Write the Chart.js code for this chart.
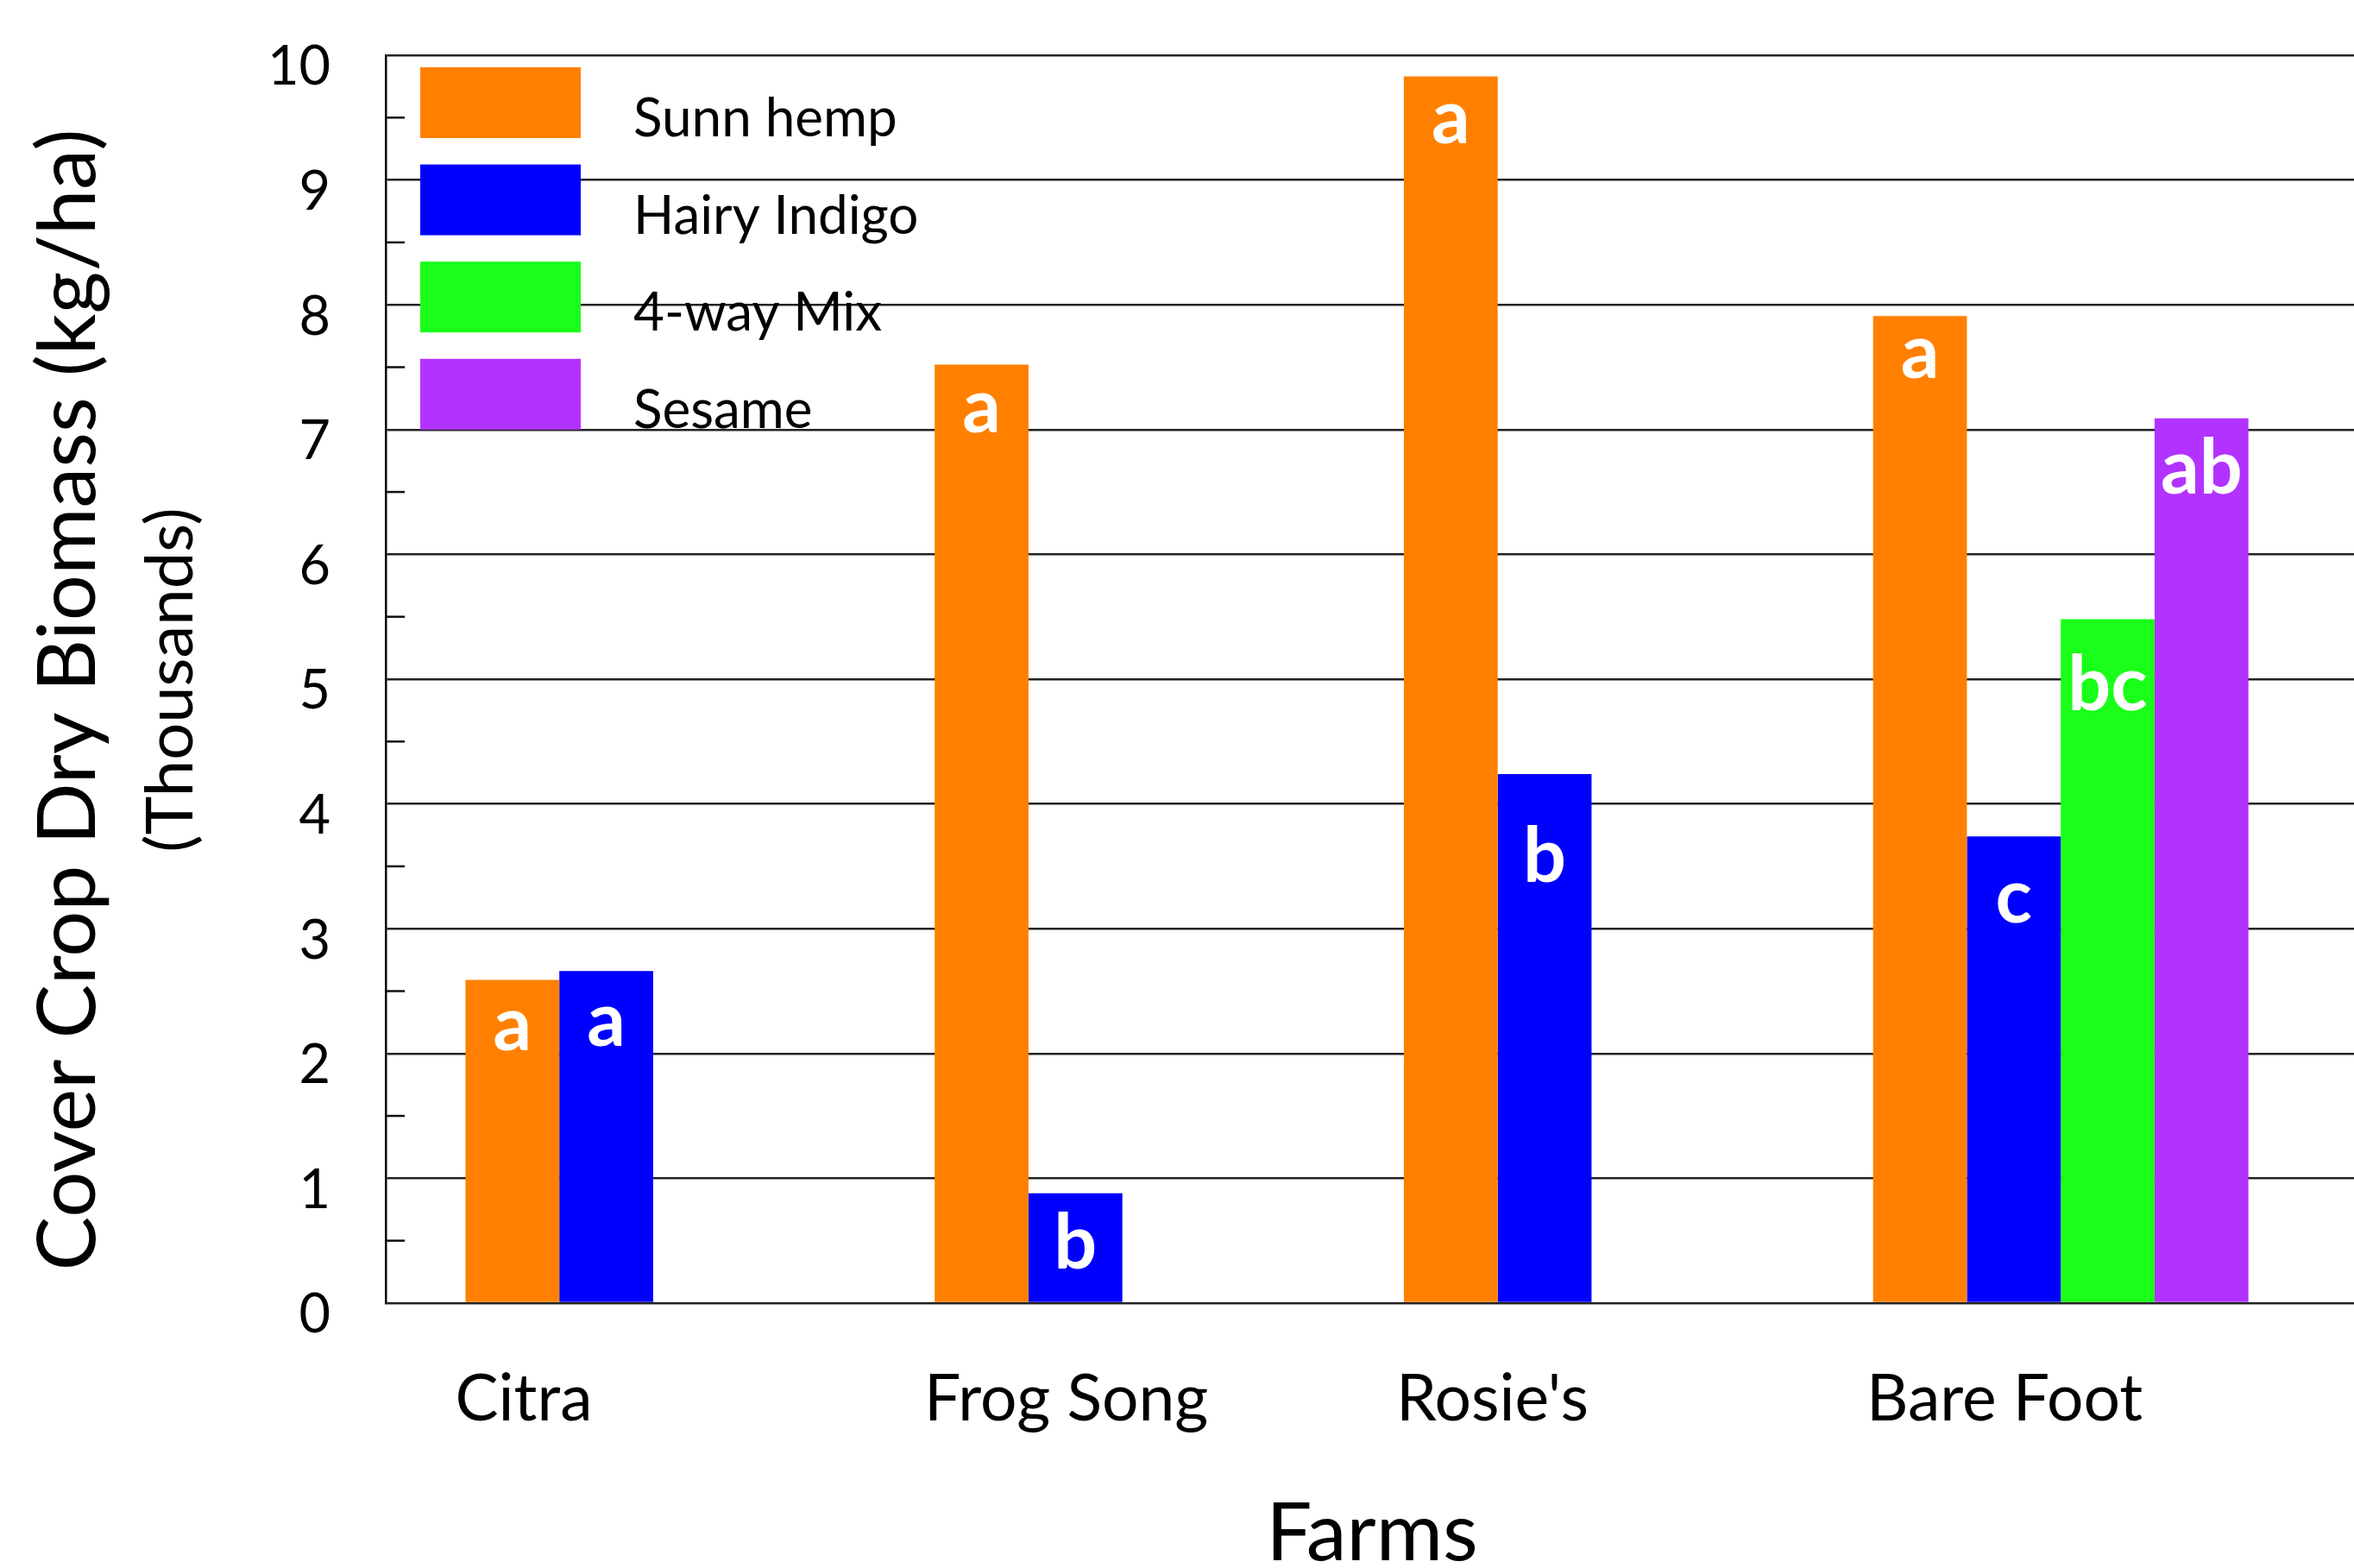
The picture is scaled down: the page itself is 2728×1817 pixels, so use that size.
<!DOCTYPE html>
<html>
<head>
<meta charset="utf-8">
<title>Cover Crop Dry Biomass by Farm</title>
<script src="https://cdn.jsdelivr.net/npm/chart.js@4.4.1/dist/chart.umd.min.js"></script>
<style>
  html, body { margin: 0; padding: 0; background: #fff; }
  canvas { display: block; }
</style>
</head>
<body>
<canvas id="biomassChart" width="2728" height="1817"></canvas>
<script>
// farms along the x axis
const farms = ['Citra', 'Frog Song', "Rosie's", 'Bare Foot'];

// dry biomass in thousands of kg/ha (null = not planted at that farm)
const sunnHemp    = [2.59, 7.52, 9.83, 7.91];
const hairyIndigo = [2.66, 0.88, 4.24, 3.74];
const fourWayMix  = [null, null, null, 5.48];
const sesame      = [null, null, null, 7.09];

// mean separation letters printed inside the bars
const sunnHempLetters    = ['a', 'a', 'a', 'a'];
const hairyIndigoLetters = ['a', 'b', 'b', 'c'];
const fourWayMixLetters  = [null, null, null, 'bc'];
const sesameLetters      = [null, null, null, 'ab'];

// y axis tick labels
const yTickValues = [0, 1, 2, 3, 4, 5, 6, 7, 8, 9, 10];

const series = [
    { label: 'Sunn hemp',    values: sunnHemp,    letters: sunnHempLetters,    color: '#FF8000' },
    { label: 'Hairy Indigo', values: hairyIndigo, letters: hairyIndigoLetters, color: '#0000FF' },
    { label: '4-way Mix',    values: fourWayMix,  letters: fourWayMixLetters,  color: '#19FF19' },
    { label: 'Sesame',       values: sesame,      letters: sesameLetters,      color: '#B233FF' }
];

// styling: how far below the bar top each letter's baseline sits, label nudges
const LETTER_DROP = [[82, 78, 77, 72], [87, 87, 125, 100], [0, 0, 0, 105], [0, 0, 0, 87]];
const FARM_LABEL_SHIFT = [-150, -65, -115, -65];
const FONT = 'Lato, "Open Sans", sans-serif';

const datasets = series.map(s => ({
    label: s.label,
    backgroundColor: s.color,
    borderWidth: 0,
    data: farms.map((f, i) => ({ x: i, y: s.values[i], letter: s.letters[i] }))
        .filter(p => p.y !== null)
}));

const overlay = {
    id: 'overlay',
    afterDraw(chart) {
        const ctx = chart.ctx;
        const area = chart.chartArea;
        const yScale = chart.scales.y;
        const xScale = chart.scales.x;
        ctx.save();

        // minor tick marks between the gridlines
        ctx.strokeStyle = '#111';
        ctx.lineWidth = 2.5;
        for (let i = 0; i < yTickValues.length - 1; i++) {
            const py = yScale.getPixelForValue((yTickValues[i] + yTickValues[i + 1]) / 2);
            ctx.beginPath();
            ctx.moveTo(area.left, py);
            ctx.lineTo(area.left + 22, py);
            ctx.stroke();
        }

        // letters inside bars
        ctx.fillStyle = '#fff';
        ctx.font = 'bold 88px ' + FONT;
        ctx.textAlign = 'center';
        ctx.textBaseline = 'alphabetic';
        chart.data.datasets.forEach((ds, di) => {
            const meta = chart.getDatasetMeta(di);
            meta.data.forEach((bar, k) => {
                const pt = ds.data[k];
                if (!pt.letter) return;
                ctx.fillText(pt.letter, bar.x, bar.y + LETTER_DROP[di][pt.x]);
            });
        });

        // legend in the upper left of the plot
        ctx.font = '62px ' + FONT;
        ctx.textAlign = 'left';
        series.forEach((s, i) => {
            const top = 78 + i * 112.6;
            ctx.fillStyle = s.color;
            ctx.fillRect(487, top, 186, 82);
            ctx.fillStyle = '#000';
            ctx.fillText(s.label, 734, top + 80);
        });

        // farm labels under the axis
        ctx.fillStyle = '#000';
        ctx.font = '75px ' + FONT;
        ctx.textAlign = 'center';
        farms.forEach((f, i) => {
            ctx.fillText(f, xScale.getPixelForValue(i) + FARM_LABEL_SHIFT[i], 1646);
        });

        // axis titles
        ctx.font = '94px ' + FONT;
        ctx.fillText('Farms', 1590, 1808);

        ctx.translate(110, 811);
        ctx.rotate(-Math.PI / 2);
        ctx.font = '94px ' + FONT;
        ctx.fillText('Cover Crop Dry Biomass (kg/ha)', 0, 0);
        ctx.restore();

        ctx.save();
        ctx.translate(223, 788);
        ctx.rotate(-Math.PI / 2);
        ctx.font = '76px ' + FONT;
        ctx.textAlign = 'center';
        ctx.fillStyle = '#000';
        ctx.fillText('(Thousands)', 0, 0);
        ctx.restore();
    }
};

new Chart(document.getElementById('biomassChart').getContext('2d'), {
    type: 'bar',
    data: { datasets: datasets },
    options: {
        responsive: false,
        devicePixelRatio: 1,
        animation: false,
        layout: { padding: { left: 0, top: 64, right: 0, bottom: 307 } },
        datasets: { bar: { categoryPercentage: 0.8, barPercentage: 1.0 } },
        plugins: { legend: { display: false }, tooltip: { enabled: false } },
        scales: {
            x: {
                type: 'linear',
                offset: false,
                min: -0.57,
                max: 3.625,
                grid: { display: false },
                border: { display: false },
                ticks: { display: false },
                afterBuildTicks: scale => { scale.ticks = farms.map((f, i) => ({ value: i })); },
                afterFit: scale => { scale.height = 0; }
            },
            y: {
                min: 0,
                max: 10,
                afterBuildTicks: scale => { scale.ticks = yTickValues.map(v => ({ value: v })); },
                afterFit: scale => {
                    scale.width = 447;
                    scale.paddingTop = 0;
                    scale.paddingBottom = 0;
                },
                grid: { color: '#222', lineWidth: 2.5, drawTicks: false },
                border: { display: true, color: '#000', width: 2.5 },
                ticks: { color: '#000', padding: 64, labelOffset: 14, font: { family: FONT, size: 63 } }
            }
        }
    },
    plugins: [overlay]
});
</script>
</body>
</html>
